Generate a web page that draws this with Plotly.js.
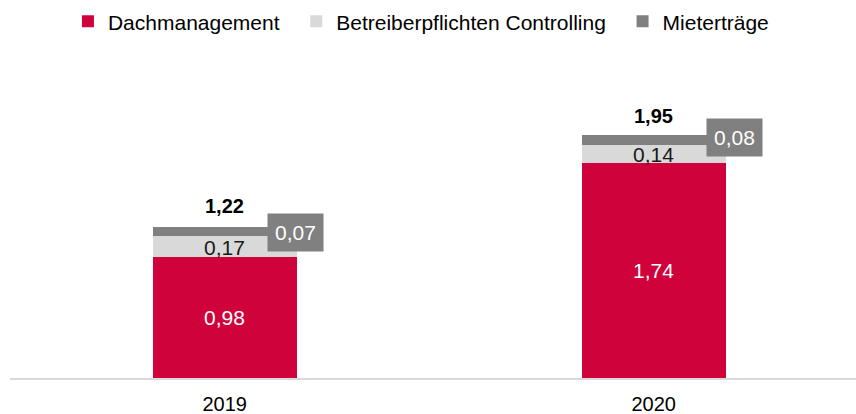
<!DOCTYPE html>
<html>
<head>
<meta charset="utf-8">
<script src="https://cdn.plot.ly/plotly-3.0.1.min.js"></script>
<style>html,body{margin:0;padding:0;background:#fff;}#chart{width:856px;height:414px;}</style>
</head>
<body>
<div id="chart"></div>
<script>
// ---- data ----
var years = ['2019', '2020'];
var dachmanagement = [0.98, 1.74];
var betreiberpflichten = [0.17, 0.14];
var mietertraege = [0.07, 0.08];
var totals = [1.22, 1.95];
var seriesNames = ['Dachmanagement', 'Betreiberpflichten Controlling', 'Mieterträge'];

// ---- styling ----
var colors = ['#D0023C', '#D9D9D9', '#808080'];
var FONT = 'Liberation Sans, Arial, sans-serif';
var barWidth = 0.336;
var boxShift = [{x: -1, y: -1}, {x: 9, y: 3}];

function fmt(v) { return v.toFixed(2).replace('.', ','); }
var pad = '\u00a0\u00a0';

var traces = [
  {type: 'bar', name: seriesNames[0] + pad, x: years, y: dachmanagement, width: barWidth,
   marker: {color: colors[0]}, hoverinfo: 'skip'},
  {type: 'bar', name: seriesNames[1] + pad, x: years, y: betreiberpflichten, width: barWidth,
   marker: {color: colors[1]}, hoverinfo: 'skip'},
  {type: 'bar', name: seriesNames[2] + pad, x: years, y: mietertraege, width: barWidth,
   marker: {color: colors[2]}, hoverinfo: 'skip'}
];

var annotations = [];
years.forEach(function (yr, i) {
  var base1 = dachmanagement[i];
  var base2 = base1 + betreiberpflichten[i];
  annotations.push({x: i, y: base1 / 2, text: fmt(dachmanagement[i]), showarrow: false,
    font: {family: FONT, size: 21, color: '#ffffff'}});
  annotations.push({x: i, y: base1 + betreiberpflichten[i] / 2, text: fmt(betreiberpflichten[i]), showarrow: false,
    yshift: -1,
    font: {family: FONT, size: 21, color: '#1a1a1a'}});
  annotations.push({x: i + barWidth / 2, y: base2 + mietertraege[i] / 2, text: fmt(mietertraege[i]), showarrow: false,
    xshift: boxShift[i].x, yshift: boxShift[i].y,
    bgcolor: colors[2], borderpad: 7,
    font: {family: FONT, size: 21, color: '#ffffff'}});
  annotations.push({x: i, y: totals[i], text: '<b>' + fmt(totals[i]) + '</b>', showarrow: false,
    yanchor: 'bottom', yshift: 8,
    font: {family: FONT, size: 20, color: '#000000'}});
});

var layout = {
  width: 856, height: 414,
  margin: {l: 10, r: 0, t: 60, b: 36},
  paper_bgcolor: '#ffffff', plot_bgcolor: '#ffffff',
  barmode: 'stack',
  font: {family: FONT, size: 20, color: '#000000'},
  showlegend: true,
  legend: {orientation: 'h', x: 0.0685, xanchor: 'left', y: 1.185, yanchor: 'top',
    font: {family: FONT, size: 21, color: '#000000'}, traceorder: 'normal'},
  xaxis: {type: 'category', range: [-0.5005, 1.4716], showline: true, linecolor: '#D9D9D9',
    linewidth: 2, ticks: '', showgrid: false, zeroline: false, ticklabelstandoff: 7,
    tickfont: {family: FONT, size: 20, color: '#000000'}},
  yaxis: {visible: false, range: [0, 2.569], showgrid: false, zeroline: false},
  annotations: annotations,
  hovermode: false
};

Plotly.newPlot('chart', traces, layout, {displayModeBar: false, staticPlot: true});
</script>
</body>
</html>
